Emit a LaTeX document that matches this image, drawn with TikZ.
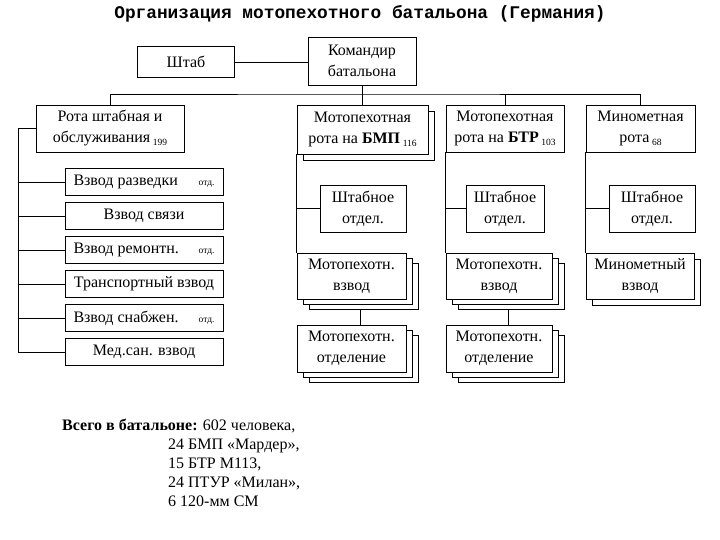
\documentclass[tikz,border=0pt]{standalone}
\usepackage{fontspec}
\setmainfont{Liberation Serif}
\newfontfamily\titlefont{Liberation Mono}
\usetikzlibrary{shadows,backgrounds}
\newcommand{\cnt}[1]{\,\raisebox{-3pt}{\fontsize{9.5}{9.5}\selectfont #1}}
\newcommand{\otd}{{\fontsize{9.5}{9.5}\selectfont отд.}}
\begin{document}
\begin{tikzpicture}[x=1pt,y=-1pt,
  box/.style={draw,fill=white,align=center,inner sep=2pt,line width=0.8pt,
    font=\rmfamily\fontsize{16}{21}\selectfont},
  one/.style={copy shadow={shadow xshift=6pt,shadow yshift=-6pt}},
  two/.style={double copy shadow={shadow xshift=6pt,shadow yshift=-5pt}},
  link/.style={line width=0.8pt}]
  \useasboundingbox (0,0) rectangle (720,540);
  \node[font=\titlefont\bfseries\fontsize{17.8}{20}\selectfont] (title) at (360,14) {Организация мотопехотного батальона (Германия)};
  \node[box,minimum width=97pt,minimum height=31pt] (shtab) at (186,62) {Штаб};
  \node[box,minimum width=108pt,minimum height=48pt] (cmd) at (362,61) {Командир\\батальона};
  \node[box,minimum width=148pt,minimum height=47pt] (rota) at (110,128.5) {Рота штабная и\\обслуживания\cnt{199}};
  \node[box,one,minimum width=131pt,minimum height=49pt] (bmp) at (362.5,129.5) {Мотопехотная\\рота на \textbf{БМП}\cnt{116}};
  \node[box,minimum width=118pt,minimum height=47pt] (btr) at (505,128.5) {Мотопехотная\\рота на \textbf{БТР}\cnt{103}};
  \node[box,minimum width=109pt,minimum height=47pt] (mort) at (640.5,128.5) {Минометная\\рота\cnt{68}};
  \node[box,minimum width=158pt,minimum height=27pt] (p1) at (144,182) {\makebox[141pt]{Взвод разведки\hfill\otd}};
  \node[box,minimum width=158pt,minimum height=27pt] (p2) at (144,216) {Взвод связи};
  \node[box,minimum width=158pt,minimum height=27pt] (p3) at (144,250) {\makebox[141pt]{Взвод ремонтн.\hfill\otd}};
  \node[box,minimum width=158pt,minimum height=27pt] (p4) at (144,284) {Транспортный взвод};
  \node[box,minimum width=158pt,minimum height=27pt] (p5) at (144,318) {\makebox[141pt]{Взвод снабжен.\hfill\otd}};
  \node[box,minimum width=158pt,minimum height=27pt] (p6) at (144,352) {Мед.сан. взвод};
  \node[box,minimum width=86pt,minimum height=47pt] (s1) at (363,208.5) {Штабное\\отдел.};
  \node[box,minimum width=78pt,minimum height=47pt] (s2) at (505,208.5) {Штабное\\отдел.};
  \node[box,minimum width=86pt,minimum height=47pt] (s3) at (652,208.5) {Штабное\\отдел.};
  \node[box,two,minimum width=109pt,minimum height=46pt] (v1) at (351.5,276) {Мотопехотн.\\взвод};
  \node[box,two,minimum width=106pt,minimum height=46pt] (v2) at (499,276) {Мотопехотн.\\взвод};
  \node[box,one,minimum width=108pt,minimum height=46pt] (v3) at (640,276) {Минометный\\взвод};
  \node[box,two,minimum width=109pt,minimum height=47pt] (o1) at (351.5,348.5) {Мотопехотн.\\отделение};
  \node[box,two,minimum width=106pt,minimum height=47pt] (o2) at (499,348.5) {Мотопехотн.\\отделение};
  \node[anchor=north west,inner sep=0pt,align=left,font=\rmfamily\fontsize{16}{19}\selectfont] (total) at (62,419)
    {\textbf{Всего в батальоне:} 602 человека,\\
     \hspace*{106pt}24 БМП «Мардер»,\\
     \hspace*{106pt}15 БТР М113,\\
     \hspace*{106pt}24 ПТУР «Милан»,\\
     \hspace*{106pt}6 120-мм СМ};
  \begin{pgfonlayer}{background}
    \coordinate (bus) at (362,94);
    \coordinate (spine) at (18,128.5);
    \draw[link] (shtab.east) -- (shtab.east -| cmd.west);
    \draw[link] (cmd.south) -- (bus);
    \draw[link] (rota.north) |- (bus) -| (mort.north);
    \draw[link] (bmp.north) -- (bmp.north |- bus);
    \draw[link] (btr.north) -- (btr.north |- bus);
    \draw[link] (rota.west) -- (spine) |- (p6.west);
    \foreach \i in {1,...,5}
      \draw[link] (p\i.west) -- (p\i.west -| spine);
    \foreach \c/\s/\v in {bmp/s1/v1,btr/s2/v2,mort/s3/v3} {
      \draw[link] (\c.south west) -- (\v.north west);
      \draw[link] (\s.west) -- (\s.west -| \c.south west);
    }
    \draw[link] ([xshift=9pt]v1.south) -- ([xshift=9pt]o1.north);
    \draw[link] ([xshift=9pt]v2.south) -- ([xshift=9pt]o2.north);
  \end{pgfonlayer}
\end{tikzpicture}
\end{document}
